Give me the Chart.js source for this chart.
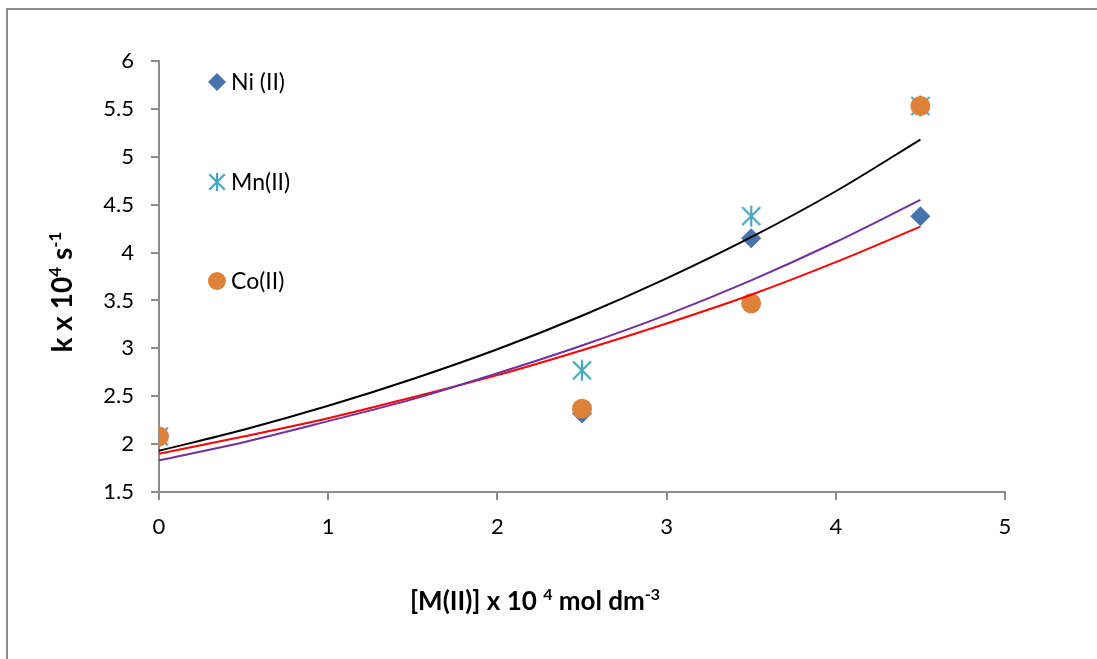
<!DOCTYPE html>
<html>
<head>
<meta charset="utf-8">
<title>k vs [M(II)]</title>
<script src="https://cdn.jsdelivr.net/npm/chart.js@4.4.0/dist/chart.umd.min.js"></script>
<style>
  html, body { margin: 0; padding: 0; background: #fff; }
  #wrap { position: relative; width: 1097px; height: 659px; overflow: hidden; }
  #frame { position: absolute; left: 6px; top: 8px; width: 1200px; height: 800px;
           border-left: 2px solid #8c8c8c; border-top: 2px solid #8c8c8c; }
  #kChart { position: absolute; left: 0; top: 0; }
</style>
</head>
<body>
<div id="wrap">
  <div id="frame"></div>
  <canvas id="kChart" width="1097" height="659"></canvas>
</div>
<script>
// measured points: [M(II)] x 10^4 and k x 10^4
const concX = [0, 2.5, 3.5, 4.5];
const niK = [2.08, 2.32, 4.15, 4.38];
const mnK = [2.08, 2.77, 4.38, 5.53];
const coK = [2.08, 2.37, 3.47, 5.53];

// exponential trendlines, every 0.5
const trendX = [0, 0.5, 1, 1.5, 2, 2.5, 3, 3.5, 4, 4.5];
const trendBlack = [1.93, 2.15, 2.40, 2.68, 2.99, 3.34, 3.73, 4.16, 4.64, 5.18];
const trendPurple = [1.83, 2.02, 2.24, 2.47, 2.74, 3.03, 3.35, 3.71, 4.11, 4.55];
const trendRed = [1.90, 2.08, 2.27, 2.49, 2.72, 2.98, 3.26, 3.56, 3.90, 4.27];

const xTicks = [0, 1, 2, 3, 4, 5];
const yTicks = [1.5, 2, 2.5, 3, 3.5, 4, 4.5, 5, 5.5, 6];

const NI_COLOR = '#4673ac';
const MN_COLOR = '#46a5bf';
const CO_COLOR = '#de8139';
const AXIS_COLOR = '#8c8c8c';

const pts = (xs, ys) => xs.map((x, i) => ({x: x, y: ys[i]}));

function drawMarker(ctx, style, x, y, r, color) {
    ctx.save();
    ctx.fillStyle = color;
    ctx.strokeStyle = color;
    ctx.beginPath();
    if (style === 'diamond') {
        ctx.moveTo(x, y - r); ctx.lineTo(x + r, y); ctx.lineTo(x, y + r); ctx.lineTo(x - r, y);
        ctx.closePath();
        ctx.fill();
    } else if (style === 'circle') {
        ctx.arc(x, y, r, 0, Math.PI * 2);
        ctx.fill();
    } else {
        // excel-like asterisk: an X plus a vertical bar
        const d = r * 0.86;
        ctx.lineWidth = 2.2;
        ctx.moveTo(x - d, y - d); ctx.lineTo(x + d, y + d);
        ctx.moveTo(x + d, y - d); ctx.lineTo(x - d, y + d);
        ctx.moveTo(x, y - r); ctx.lineTo(x, y + r);
        ctx.stroke();
    }
    ctx.restore();
}

// point style image for Mn(II)
const starImg = document.createElement('canvas');
starImg.width = 24; starImg.height = 24;
drawMarker(starImg.getContext('2d'), 'star', 12, 12, 10.5, MN_COLOR);

// text with superscript parts, parts = [[text, isSup], ...]
function drawRich(ctx, parts, cx, baseY, size) {
    const big = `bold ${size}px Lato`;
    const small = `bold ${Math.round(size * 0.62)}px Lato`;
    let total = 0;
    parts.forEach(p => { ctx.font = p[1] ? small : big; total += ctx.measureText(p[0]).width; });
    let x = cx - total / 2;
    ctx.textAlign = 'left';
    ctx.textBaseline = 'alphabetic';
    parts.forEach(p => {
        ctx.font = p[1] ? small : big;
        ctx.fillText(p[0], x, p[1] ? baseY - size * 0.4 : baseY);
        x += ctx.measureText(p[0]).width;
    });
}

const axisTitles = {
    id: 'axisTitles',
    afterDraw(chart) {
        const ctx = chart.ctx;
        ctx.save();
        ctx.fillStyle = '#000';
        drawRich(ctx, [['[M(II)] x 10 ', false], ['4', true], [' mol dm', false], ['-3', true]], 535, 610, 26);
        ctx.translate(72, 292);
        ctx.rotate(-Math.PI / 2);
        drawRich(ctx, [['k x 10', false], ['4', true], [' s', false], ['-1', true]], 0, 0, 28);
        ctx.restore();
    }
};

// legend sits inside the plot, one entry every ~100px
const sideLegend = {
    id: 'sideLegend',
    afterDraw(chart) {
        const ctx = chart.ctx;
        const items = chart.data.datasets.filter(d => d.legendStyle);
        const rows = [82, 182, 281];
        ctx.save();
        ctx.font = '23px Lato';
        ctx.fillStyle = '#000';
        ctx.textAlign = 'left';
        ctx.textBaseline = 'middle';
        items.forEach((d, i) => {
            drawMarker(ctx, d.legendStyle, 217, rows[i], 9, d.backgroundColor);
            ctx.fillText(d.label, 231, rows[i] + 1);
        });
        ctx.restore();
    }
};

const trendStyle = {
    type: 'line',
    pointRadius: 0,
    borderWidth: 2,
    fill: false,
    cubicInterpolationMode: 'monotone'
};

const ctx = document.getElementById('kChart').getContext('2d');
new Chart(ctx, {
    type: 'scatter',
    data: {
        datasets: [
            Object.assign({label: 'trend 1', data: pts(trendX, trendBlack), borderColor: '#000000'}, trendStyle),
            Object.assign({label: 'trend 2', data: pts(trendX, trendPurple), borderColor: '#7030a0'}, trendStyle),
            Object.assign({label: 'trend 3', data: pts(trendX, trendRed), borderColor: '#ff0000'}, trendStyle),
            {label: 'Ni (II)', data: pts(concX, niK), legendStyle: 'diamond', pointStyle: 'rectRot',
             pointRadius: 10, backgroundColor: NI_COLOR, borderColor: NI_COLOR, borderWidth: 0, order: 3},
            {label: 'Mn(II)', data: pts(concX, mnK), legendStyle: 'star', pointStyle: starImg,
             pointRadius: 11, backgroundColor: MN_COLOR, borderColor: MN_COLOR, borderWidth: 0, order: 2},
            {label: 'Co(II)', data: pts(concX, coK), legendStyle: 'circle', pointStyle: 'circle',
             pointRadius: 10, backgroundColor: CO_COLOR, borderColor: CO_COLOR, borderWidth: 0, order: 1}
        ]
    },
    options: {
        responsive: false,
        animation: false,
        events: [],
        layout: {padding: {left: 0, top: 61, right: 92, bottom: 0}},
        plugins: {legend: {display: false}, tooltip: {enabled: false}},
        scales: {
            x: {
                type: 'linear', min: 0, max: 5,
                afterBuildTicks: s => { s.ticks = xTicks.map(v => ({value: v})); },
                afterFit: s => { s.height = 167; },
                border: {display: true, color: AXIS_COLOR, width: 2},
                grid: {drawOnChartArea: false, drawTicks: true, tickLength: 8, color: AXIS_COLOR, lineWidth: 2},
                ticks: {color: '#000', padding: 14, font: {family: 'Lato', size: 22}, maxRotation: 0,
                        callback: v => String(v)}
            },
            y: {
                type: 'linear', min: 1.5, max: 6,
                afterBuildTicks: s => { s.ticks = yTicks.map(v => ({value: v})); },
                afterFit: s => { s.width = 159; },
                border: {display: true, color: AXIS_COLOR, width: 2},
                grid: {drawOnChartArea: false, drawTicks: true, tickLength: 8, color: AXIS_COLOR, lineWidth: 2},
                ticks: {color: '#000', padding: 17, font: {family: 'Lato', size: 22},
                        callback: v => String(v)}
            }
        }
    },
    plugins: [axisTitles, sideLegend]
});
</script>
</body>
</html>
